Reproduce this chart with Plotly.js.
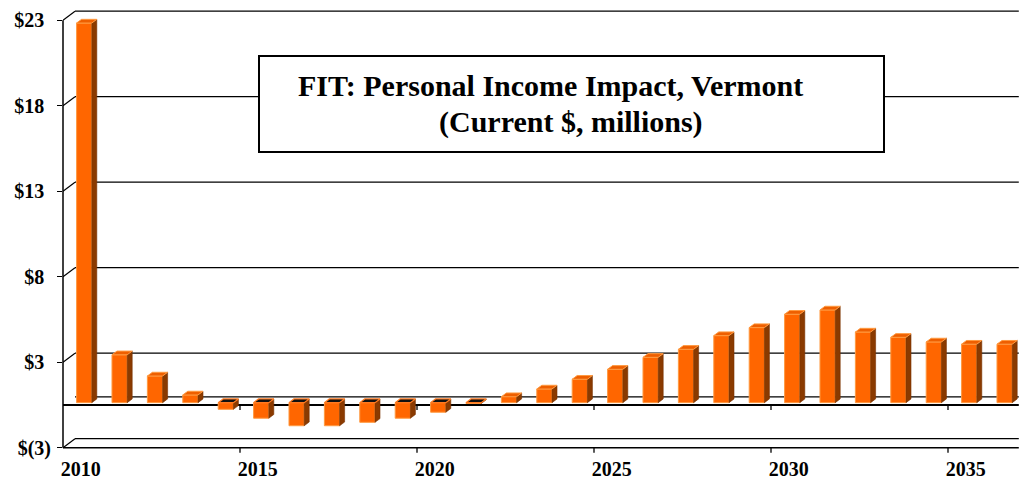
<!DOCTYPE html>
<html><head><meta charset="utf-8">
<script src="https://cdn.plot.ly/plotly-3.0.1.min.js"></script>
<style>html,body{margin:0;padding:0;background:#fff}</style>
</head><body><div id="chart" style="width:1020px;height:480px"></div>
<script>
// ---- data ----
const years = ['2010','2011','2012','2013','2014','2015','2016','2017','2018','2019','2020','2021','2022',
  '2023','2024','2025','2026','2027','2028','2029','2030','2031','2032','2033','2034','2035','2036'];
const income = [22.2, 2.8, 1.56, 0.45, -0.39, -0.91, -1.35, -1.35, -1.15, -0.91, -0.56, -0.05, 0.35,
  0.80, 1.37, 1.95, 2.65, 3.12, 3.92, 4.39, 5.17, 5.42, 4.13, 3.82, 3.55, 3.42, 3.42];
const yTickVals = [-2.5, 2.5, 7.5, 12.5, 17.5, 22.5];
const yTickText = ['$(3)', '$3\u2004', '$8\u2004', '$13\u2004', '$18\u2004', '$23\u2004'];
const xTickYears = ['2010','2015','2020','2025','2030','2035'];
const titleLine1 = 'FIT: Personal Income Impact, Vermont';
const titleLine2 = '(Current $, millions)';

// ---- geometry ----
const W = 1020, H = 480;
const NCAT = years.length;
const PX_X0 = 63, CAT = 35.4;
const PPU = 17.1, Y_REF_PX = 447.7, Y_REF_V = -2.5;
const Y_MIN = -2.85, Y_MAX = 23.1;
const pxY = v => Y_REF_PX - PPU * (v - Y_REF_V);
const xDom = [PX_X0 / W, (PX_X0 + CAT * NCAT) / W];
const yDom = [1 - pxY(Y_MIN) / H, 1 - pxY(Y_MAX) / H];
// back wall offset
const BDX = 12 / CAT, BDY = 9 / PPU;
// bar plane offset
const BAR_DX = 3.5 / CAT, BAR_DY = 2.3 / PPU;
// bar depth
const DDX = 5 / CAT, DDY = 3.7 / PPU;
const BW = 0.43;

const idx = years.map((_, i) => i);

// 3D faces built from data
const side = {x: [], y: []}, topP = {x: [], y: []}, topN = {x: [], y: []};
income.forEach((v, i) => {
  const L = i - BW / 2, R = i + BW / 2;
  if (v >= 0) {
    side.x.push(R, R, R + DDX, R + DDX, R, null);
    side.y.push(0, v, v + DDY, DDY, 0, null);
    topP.x.push(L, R, R + DDX, L + DDX, L, null);
    topP.y.push(v, v, v + DDY, v + DDY, v, null);
  } else {
    side.x.push(R, R, R + DDX, R + DDX, R, null);
    side.y.push(v, 0, DDY, v + DDY, v, null);
    topN.x.push(L, R, R + DDX, L + DDX, L, null);
    topN.y.push(0, 0, DDY, DDY, 0, null);
  }
});

const traces = [
  {type: 'bar', x: idx, y: income, xaxis: 'x2', yaxis: 'y2', width: BW,
   marker: {color: '#FF6600', line: {color: '#FF9A40', width: 1}}, hoverinfo: 'skip'},
  {type: 'scatter', mode: 'lines', x: side.x, y: side.y, xaxis: 'x2', yaxis: 'y2', fill: 'toself',
   fillcolor: '#8A3A00', line: {color: '#7A3300', width: 0.6}, hoverinfo: 'skip'},
  {type: 'scatter', mode: 'lines', x: topP.x, y: topP.y, xaxis: 'x2', yaxis: 'y2', fill: 'toself',
   fillcolor: '#EE5F00', line: {color: '#FF9A40', width: 1}, hoverinfo: 'skip'},
  {type: 'scatter', mode: 'lines', x: topN.x, y: topN.y, xaxis: 'x2', yaxis: 'y2', fill: 'toself',
   fillcolor: '#111111', line: {color: '#FF7A20', width: 1.2}, hoverinfo: 'skip'}
];

const shapes = [];
const ln = (x0, y0, x1, y1, w, extra) => Object.assign({type: 'line', xref: 'x', yref: 'y', x0, y0, x1, y1,
  line: {color: '#000', width: w}, layer: 'below'}, extra || {});
// back wall lines and floor back edge
yTickVals.forEach(v => shapes.push(ln(-0.5 + BDX, v + BDY, NCAT + 1, v + BDY, 1.2)));
shapes.push(ln(-0.5 + BDX, 0 + BDY * 0.9, NCAT + 1, 0 + BDY * 0.9, 1.2));
// diagonals from front ticks to back wall
yTickVals.forEach(v => shapes.push(ln(-0.5, v, -0.5 + BDX, v + BDY, 1.2)));
// front edges
shapes.push(ln(-0.5, 0, NCAT, 0, 2));
shapes.push(ln(-0.5, -2.5, NCAT, -2.5, 1.4));
// front vertical axis line
shapes.push({type: 'line', xref: 'x domain', yref: 'y', x0: 0, x1: 0, y0: -2.5, y1: 22.5,
  line: {color: '#000', width: 1.5}, layer: 'below'});
// category tick marks (between categories)
xTickYears.forEach(yr => {
  const b = years.indexOf(yr) - 0.5;
  if (b < 0) return;
  shapes.push(ln(b, 0, b, -5 / PPU, 1.3));
  shapes.push(ln(b, -2.5, b, -2.5 - 5 / PPU, 1.3));
});
// title box
shapes.push({type: 'rect', xref: 'paper', yref: 'paper', x0: 259 / W, x1: 884 / W, y0: 1 - 152 / H, y1: 1 - 56 / H,
  fillcolor: '#fff', line: {color: '#000', width: 2}, layer: 'above'});

const tickFont = {family: 'Liberation Serif, Times New Roman, serif', size: 20, color: '#000', weight: 700};
const titleFont = {family: 'Liberation Serif, Times New Roman, serif', size: 30, color: '#000', weight: 700};

const layout = {
  width: W, height: H, margin: {l: 0, r: 0, t: 0, b: 0},
  paper_bgcolor: '#fff', plot_bgcolor: 'rgba(0,0,0,0)', showlegend: false, hovermode: false,
  xaxis: {domain: xDom, range: [-0.5, NCAT - 0.5], tickvals: xTickYears.map(y => years.indexOf(y)),
    ticktext: xTickYears, ticks: '', showgrid: false, zeroline: false, showline: false,
    tickfont: tickFont, ticklabelstandoff: 1, fixedrange: true},
  yaxis: {domain: yDom, range: [Y_MIN, Y_MAX], tickvals: yTickVals, ticktext: yTickText,
    ticks: 'outside', ticklen: 5, tickwidth: 1.3, tickcolor: '#000', showgrid: false, zeroline: false,
    showline: false, tickfont: tickFont, ticklabelstandoff: 2, fixedrange: true},
  xaxis2: {overlaying: 'x', anchor: 'y2', range: [-0.5 - BAR_DX, NCAT - 0.5 - BAR_DX], visible: false, fixedrange: true},
  yaxis2: {overlaying: 'y', anchor: 'x2', range: [Y_MIN - BAR_DY, Y_MAX - BAR_DY], visible: false, fixedrange: true},
  shapes: shapes,
  annotations: [
    {xref: 'paper', yref: 'paper', x: 550 / W, y: 1 - 85 / H, xanchor: 'center', yanchor: 'middle',
     text: titleLine1, showarrow: false, font: titleFont},
    {xref: 'paper', yref: 'paper', x: 571 / W, y: 1 - 122 / H, xanchor: 'center', yanchor: 'middle',
     text: titleLine2, showarrow: false, font: titleFont}
  ]
};

Plotly.newPlot('chart', traces, layout, {displayModeBar: false, staticPlot: true});
</script></body></html>
